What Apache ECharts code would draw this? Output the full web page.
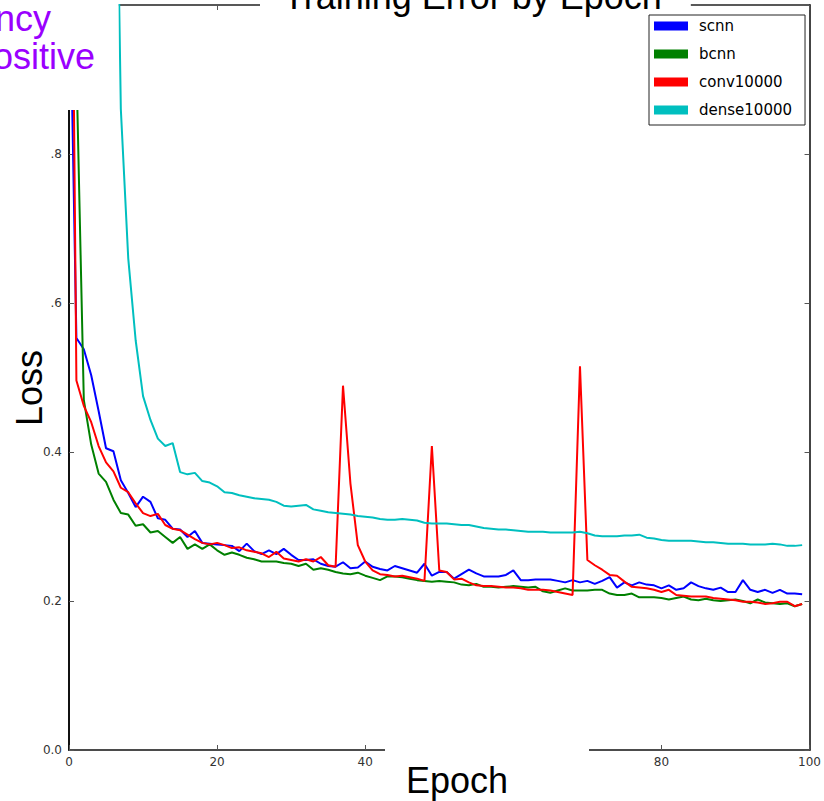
<!DOCTYPE html>
<html>
<head>
<meta charset="utf-8">
<script src="https://cdn.jsdelivr.net/npm/echarts@6/dist/echarts.min.js"></script>
<style>
html, body { margin: 0; padding: 0; background: #fff; }
#chart { width: 824px; height: 801px; }
</style>
</head>
<body>
<div id="chart"></div>
<script>
// Training loss per epoch for four models (epochs 0..99)
const epochs = Array.from({ length: 100 }, (_, i) => i);

const scnn = [
  1.1, 0.553, 0.538, 0.503, 0.455, 0.405, 0.401, 0.362, 0.345, 0.326,
  0.340, 0.333, 0.311, 0.309, 0.297, 0.296, 0.286, 0.294, 0.278, 0.277,
  0.276, 0.275, 0.274, 0.267, 0.277, 0.267, 0.263, 0.268, 0.263, 0.270,
  0.262, 0.255, 0.255, 0.256, 0.250, 0.247, 0.246, 0.252, 0.244, 0.245,
  0.253, 0.246, 0.243, 0.241, 0.247, 0.244, 0.241, 0.238, 0.250, 0.234,
  0.239, 0.239, 0.230, 0.236, 0.242, 0.237, 0.233, 0.233, 0.233, 0.235,
  0.241, 0.228, 0.228, 0.229, 0.229, 0.229, 0.227, 0.225, 0.228, 0.225,
  0.227, 0.223, 0.227, 0.232, 0.218, 0.225, 0.221, 0.225, 0.222, 0.221,
  0.217, 0.221, 0.215, 0.217, 0.225, 0.220, 0.217, 0.215, 0.218, 0.212,
  0.212, 0.228, 0.215, 0.212, 0.215, 0.211, 0.215, 0.210, 0.210, 0.209
];

const bcnn = [
  1.5, 0.92, 0.47, 0.41, 0.371, 0.360, 0.336, 0.318, 0.316, 0.301,
  0.303, 0.292, 0.294, 0.286, 0.278, 0.286, 0.270, 0.276, 0.270, 0.276,
  0.268, 0.262, 0.265, 0.262, 0.258, 0.256, 0.253, 0.253, 0.253, 0.251,
  0.250, 0.247, 0.250, 0.242, 0.244, 0.242, 0.239, 0.237, 0.236, 0.238,
  0.234, 0.231, 0.228, 0.233, 0.233, 0.232, 0.230, 0.228, 0.227, 0.226,
  0.227, 0.226, 0.225, 0.222, 0.221, 0.223, 0.219, 0.219, 0.218, 0.219,
  0.220, 0.219, 0.218, 0.219, 0.213, 0.211, 0.214, 0.217, 0.214, 0.214,
  0.214, 0.215, 0.215, 0.210, 0.208, 0.208, 0.210, 0.205, 0.205, 0.205,
  0.204, 0.202, 0.204, 0.206, 0.202, 0.201, 0.203, 0.201, 0.200, 0.201,
  0.202, 0.200, 0.197, 0.202, 0.198, 0.197, 0.196, 0.197, 0.193, 0.196
];

const conv10000 = [
  1.6, 0.496, 0.462, 0.440, 0.408, 0.386, 0.374, 0.352, 0.346, 0.331,
  0.318, 0.314, 0.317, 0.302, 0.297, 0.295, 0.289, 0.283, 0.278, 0.276,
  0.278, 0.275, 0.271, 0.272, 0.268, 0.266, 0.264, 0.259, 0.266, 0.257,
  0.255, 0.253, 0.256, 0.253, 0.259, 0.248, 0.246, 0.489, 0.358, 0.275,
  0.253, 0.241, 0.236, 0.235, 0.233, 0.234, 0.232, 0.230, 0.227, 0.408,
  0.241, 0.239, 0.229, 0.230, 0.225, 0.221, 0.220, 0.220, 0.219, 0.218,
  0.218, 0.217, 0.215, 0.215, 0.215, 0.214, 0.212, 0.210, 0.208, 0.515,
  0.255, 0.248, 0.242, 0.235, 0.234, 0.226, 0.219, 0.218, 0.217, 0.215,
  0.212, 0.215, 0.208, 0.207, 0.206, 0.206, 0.206, 0.204, 0.203, 0.202,
  0.201, 0.199, 0.199, 0.198, 0.196, 0.197, 0.199, 0.199, 0.193, 0.196
];

const dense10000 = [
  3.2, 2.8, 2.4, 2.1, 1.9, 1.7, 1.5, 0.86, 0.66, 0.55,
  0.475, 0.443, 0.418, 0.408, 0.412, 0.373, 0.370, 0.372, 0.361, 0.359,
  0.354, 0.346, 0.345, 0.342, 0.340, 0.338, 0.337, 0.336, 0.333, 0.328,
  0.327, 0.328, 0.329, 0.323, 0.321, 0.319, 0.318, 0.317, 0.316, 0.314,
  0.313, 0.312, 0.310, 0.309, 0.309, 0.310, 0.309, 0.308, 0.305, 0.304,
  0.304, 0.304, 0.303, 0.302, 0.302, 0.300, 0.298, 0.297, 0.296, 0.296,
  0.295, 0.294, 0.293, 0.293, 0.293, 0.292, 0.292, 0.292, 0.292, 0.293,
  0.291, 0.288, 0.287, 0.287, 0.287, 0.288, 0.288, 0.289, 0.285, 0.284,
  0.282, 0.281, 0.281, 0.281, 0.281, 0.280, 0.279, 0.279, 0.278, 0.277,
  0.277, 0.277, 0.276, 0.276, 0.276, 0.277, 0.276, 0.274, 0.274, 0.275
];

const seriesNames = ['scnn', 'bcnn', 'conv10000', 'dense10000'];
const seriesColors = ['#0000ff', '#008000', '#ff0000', '#00bfbf'];
const seriesValues = [scnn, bcnn, conv10000, dense10000];

// Tick labels as they read on the figure (the overlaid text boxes hide some of them)
const xTickLabels = { 0: '0', 20: '20', 40: '40', 60: '', 80: '80', 100: '100' };
const yTickLabels = ['0.0', '0.2', '0.4', '.6', '.8', ''];
const xTickStep = 20;
const yTickStep = 0.2;

const chart = echarts.init(document.getElementById('chart'), null, { renderer: 'svg' });

const tickFont = { fontFamily: 'DejaVu Sans', fontSize: 12, color: '#333' };
const spine = (color, width) => ({ show: true, onZero: false, lineStyle: { color, width } });
const innerTick = { show: true, inside: true, length: 5, lineStyle: { color: '#555', width: 1 } };

chart.setOption({
  animation: false,
  backgroundColor: '#fff',
  title: {
    text: 'Training Error by Epoch',
    left: 260,
    top: -20,
    padding: [0, 29, 0, 23],
    backgroundColor: '#fff',
    textStyle: { fontFamily: 'Liberation Sans', fontSize: 36, fontWeight: 'normal', color: '#000', lineHeight: 32 }
  },
  grid: { left: 69, right: 14, top: 5, bottom: 51, containLabel: false },
  legend: {
    data: seriesNames,
    orient: 'vertical',
    left: 649,
    top: 15,
    icon: 'rect',
    itemWidth: 34,
    itemHeight: 9,
    itemGap: 10,
    padding: [2, 13, 6, 5],
    borderColor: '#222',
    borderWidth: 1,
    borderRadius: 0,
    backgroundColor: '#fff',
    textStyle: { fontFamily: 'DejaVu Sans', fontSize: 15, color: '#000', lineHeight: 18, padding: [0, 0, 0, 6] }
  },
  xAxis: [
    {
      type: 'value', position: 'bottom', min: 0, max: 100, interval: xTickStep,
      axisLine: spine('#111', 1.5),
      axisTick: innerTick,
      axisLabel: Object.assign({ margin: 6, formatter: v => xTickLabels[v] }, tickFont),
      splitLine: { show: false }
    },
    {
      type: 'value', position: 'top', min: 0, max: 100, interval: xTickStep,
      axisLine: spine('#222', 1.5),
      axisTick: innerTick,
      axisLabel: { show: false },
      splitLine: { show: false }
    }
  ],
  yAxis: [
    {
      type: 'value', position: 'left', min: 0, max: 1, interval: yTickStep,
      axisLine: spine('#111', 2),
      axisTick: innerTick,
      axisLabel: Object.assign({ margin: 7, formatter: v => yTickLabels[Math.round(v / yTickStep)] }, tickFont),
      splitLine: { show: false }
    },
    {
      type: 'value', position: 'right', min: 0, max: 1, interval: yTickStep,
      axisLine: spine('#444', 2),
      axisTick: innerTick,
      axisLabel: { show: false },
      splitLine: { show: false }
    }
  ],
  series: seriesNames.map((name, k) => ({
    name,
    type: 'line',
    xAxisIndex: 0,
    yAxisIndex: 0,
    data: epochs.map((e, i) => [e, seriesValues[k][i]]),
    symbol: 'none',
    showSymbol: false,
    clip: true,
    lineStyle: { color: seriesColors[k], width: 2 },
    itemStyle: { color: seriesColors[k] },
    emphasis: { disabled: true }
  })),
  graphic: [
    // white text boxes laid over the plot edges
    { type: 'rect', z: 50, shape: { x: 0, y: 0, width: 118.5, height: 110 }, style: { fill: '#fff' } },
    { type: 'rect', z: 50, shape: { x: 385, y: 740, width: 204, height: 61 }, style: { fill: '#fff' } },
    { type: 'text', z: 60, x: 51, y: 18, style: { text: 'ncy', fontFamily: 'Liberation Sans', fontSize: 36, fill: '#9a00ff', align: 'right', verticalAlign: 'middle' } },
    { type: 'text', z: 60, x: 95, y: 56, style: { text: 'ositive', fontFamily: 'Liberation Sans', fontSize: 36, fill: '#9a00ff', align: 'right', verticalAlign: 'middle' } },
    { type: 'text', z: 60, x: 29, y: 388, rotation: Math.PI / 2, style: { text: 'Loss', fontFamily: 'Liberation Sans', fontSize: 36, fill: '#000', align: 'center', verticalAlign: 'middle' } },
    { type: 'text', z: 60, x: 457, y: 780, style: { text: 'Epoch', fontFamily: 'Liberation Sans', fontSize: 36, fill: '#000', align: 'center', verticalAlign: 'middle' } }
  ]
});
</script>
</body>
</html>
